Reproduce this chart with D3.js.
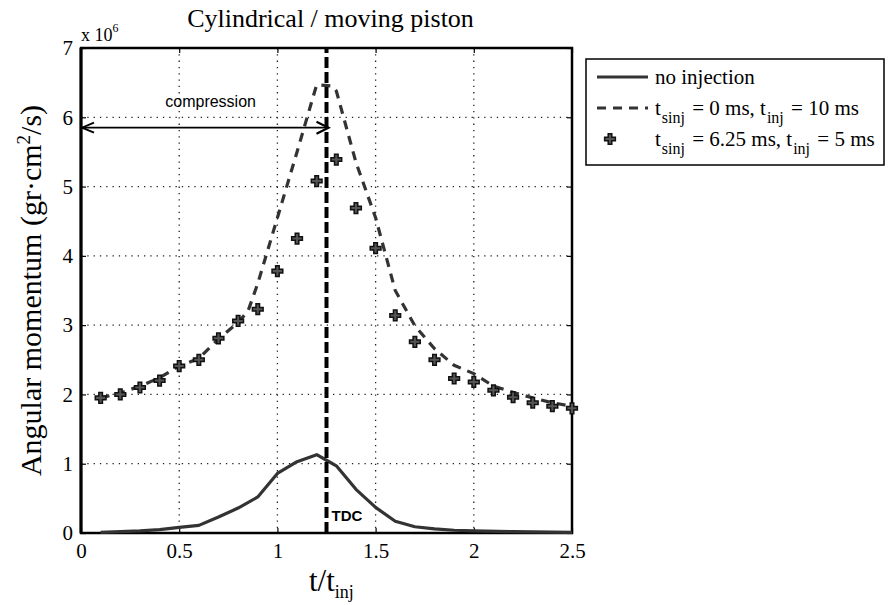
<!DOCTYPE html>
<html><head><meta charset="utf-8">
<script src="https://cdn.jsdelivr.net/npm/d3@7"></script>
<style>body{margin:0;background:#fff}svg{display:block}</style>
</head><body>
<svg id="c" width="889" height="605"></svg>
<script>
// Values in units of 1e6 gr·cm²/s
const noInjX = [0.1,0.2,0.3,0.4,0.5,0.6,0.7,0.8,0.9,1.0,1.1,1.2,1.25,1.3,1.4,1.5,1.6,1.7,1.8,1.9,2.0,2.2,2.5];
const noInjY = [0.01,0.02,0.03,0.05,0.08,0.11,0.23,0.36,0.52,0.86,1.03,1.13,1.05,0.97,0.63,0.37,0.17,0.09,0.06,0.04,0.03,0.02,0.01];
const inj10X = [0.1,0.2,0.3,0.4,0.5,0.6,0.7,0.8,0.85,0.9,1.0,1.1,1.2,1.28,1.3,1.4,1.5,1.6,1.7,1.8,1.9,2.0,2.1,2.2,2.3,2.4,2.5];
const inj10Y = [1.95,2.02,2.12,2.24,2.41,2.52,2.8,3.04,3.2,3.6,4.55,5.5,6.47,6.45,6.38,5.35,4.55,3.5,2.99,2.66,2.42,2.3,2.12,2.03,1.95,1.88,1.83];
const inj5X = [0.1,0.2,0.3,0.4,0.5,0.6,0.7,0.8,0.9,1.0,1.1,1.2,1.3,1.4,1.5,1.6,1.7,1.8,1.9,2.0,2.1,2.2,2.3,2.4,2.5];
const inj5Y = [1.95,2.0,2.1,2.2,2.41,2.5,2.81,3.06,3.23,3.78,4.25,5.08,5.39,4.69,4.11,3.14,2.76,2.5,2.23,2.18,2.06,1.96,1.88,1.83,1.8];
const xTicks = [0,0.5,1,1.5,2,2.5];
const xTickLabels = ["0","0.5","1","1.5","2","2.5"];
const yTicks = [0,1,2,3,4,5,6,7];
const tdcX = 1.25;
const compressionY = 5.85;
const titleText = "Cylindrical / moving piston";

const svg = d3.select("#c");
const L=81,R=572,T=48,B=533;
const x = d3.scaleLinear().domain([0,2.5]).range([L,R]);
const y = d3.scaleLinear().domain([0,7]).range([B,T]);
const serif = "'Liberation Serif','Times New Roman',serif";
const sans = "'Liberation Sans',Arial,sans-serif";

// grid
const g = svg.append("g");
g.selectAll(".gx").data(xTicks.slice(1,-1)).join("line")
  .attr("x1",d=>x(d)).attr("x2",d=>x(d)).attr("y1",T).attr("y2",B)
  .attr("stroke","#222").attr("stroke-width",1.3).attr("stroke-dasharray","1.3,5");
g.selectAll(".gy").data(yTicks.slice(1,-1)).join("line")
  .attr("y1",d=>y(d)).attr("y2",d=>y(d)).attr("x1",L).attr("x2",R)
  .attr("stroke","#222").attr("stroke-width",1.3).attr("stroke-dasharray","1.3,5");

// axes
const ax = svg.append("g").attr("transform",`translate(0,${B})`)
  .call(d3.axisBottom(x).tickValues(xTicks).tickFormat((d,i)=>xTickLabels[i]).tickSizeInner(-5).tickSizeOuter(0).tickPadding(10));
const ay = svg.append("g").attr("transform",`translate(${L},0)`)
  .call(d3.axisLeft(y).tickValues(yTicks).tickFormat(d3.format("d")).tickSizeInner(-5).tickSizeOuter(0).tickPadding(8));
const axTop = svg.append("g").attr("transform",`translate(0,${T})`)
  .call(d3.axisTop(x).tickValues(xTicks).tickFormat("").tickSizeInner(-5).tickSizeOuter(0));
const ayR = svg.append("g").attr("transform",`translate(${R},0)`)
  .call(d3.axisRight(y).tickValues(yTicks).tickFormat("").tickSizeInner(-5).tickSizeOuter(0));
[ax,ay,axTop,ayR].forEach(a=>{
  a.select(".domain").remove();
  a.selectAll(".tick line").attr("stroke","#000").attr("stroke-width",1.2);
  a.selectAll(".tick text").attr("font-family",serif).attr("font-size",21).attr("fill","#000");
});
svg.append("rect").attr("x",L).attr("y",T).attr("width",R-L).attr("height",B-T)
  .attr("fill","none").attr("stroke","#000").attr("stroke-width",2.5);
svg.append("line").attr("x1",L).attr("x2",L).attr("y1",T).attr("y2",B).attr("stroke","#000").attr("stroke-width",3);

// x10^6
const ex = svg.append("text").attr("x",L).attr("y",41).attr("font-family",serif).attr("font-size",18).text("x 10");
ex.append("tspan").attr("dy",-9).attr("font-size",12).text("6");

// lines
const line = d3.line().x(d=>x(d[0])).y(d=>y(d[1]));
svg.append("path").datum(noInjX.map((v,i)=>[v,noInjY[i]])).attr("d",line)
  .attr("fill","none").attr("stroke","#333").attr("stroke-width",3.2).attr("stroke-linejoin","round");
svg.append("path").datum(inj10X.map((v,i)=>[v,inj10Y[i]])).attr("d",line)
  .attr("fill","none").attr("stroke","#333").attr("stroke-width",3.2).attr("stroke-dasharray","9,7");
const sym = d3.symbol().type(d3.symbolCross).size(64);
svg.selectAll(".mk").data(inj5X.map((v,i)=>[v,inj5Y[i]])).join("path")
  .attr("d",sym).attr("transform",d=>`translate(${x(d[0])},${y(d[1])})`)
  .attr("fill","#555").attr("stroke","#111").attr("stroke-width",1.5);

// TDC line
svg.append("line").attr("x1",x(tdcX)).attr("x2",x(tdcX)).attr("y1",y(0)).attr("y2",y(7))
  .attr("stroke","#000").attr("stroke-width",4).attr("stroke-dasharray","11,4");
svg.append("text").attr("x",x(tdcX)+5).attr("y",y(0.18)).attr("font-family",sans).attr("font-weight","bold")
  .attr("font-size",15).text("TDC");

// compression arrow
const ay0 = y(compressionY);
const x0 = x(0)+1, x1 = x(tdcX)+2;
svg.append("line").attr("x1",x0).attr("x2",x1).attr("y1",ay0).attr("y2",ay0).attr("stroke","#000").attr("stroke-width",1.8);
svg.append("path").attr("d",`M${x0+12},${ay0-5}L${x0},${ay0}L${x0+12},${ay0+5}`).attr("fill","none").attr("stroke","#000").attr("stroke-width",1.8);
svg.append("path").attr("d",`M${x1-12},${ay0-6}L${x1},${ay0}L${x1-12},${ay0+6}`).attr("fill","none").attr("stroke","#000").attr("stroke-width",2.2);
svg.append("text").attr("x",x(0.66)).attr("y",y(6.15)).attr("text-anchor","middle").attr("font-family",sans)
  .attr("font-size",16).text("compression");

// title
svg.append("text").attr("x",(L+R)/2+4).attr("y",27).attr("text-anchor","middle").attr("font-family",serif)
  .attr("font-size",26).text(titleText);

// x label
const xl = svg.append("text").attr("x",309).attr("y",591).attr("font-family",serif).attr("font-size",31);
xl.append("tspan").text("t/t");
xl.append("tspan").attr("dy",7).attr("font-size",18).text("inj");

// y label
const yl = svg.append("text").attr("transform",`translate(41,${(T+B)/2}) rotate(-90)`).attr("text-anchor","middle")
  .attr("font-family",serif).attr("font-size",30);
yl.append("tspan").text("Angular momentum (gr\u00b7cm");
yl.append("tspan").attr("dy",-11).attr("font-size",19).text("2");
yl.append("tspan").attr("dy",11).text("/s)");

// legend
const lg = svg.append("g");
const rows=[84,115,146];
lg.append("rect").attr("x",586).attr("y",59).attr("width",298).attr("height",106).attr("fill","#fff").attr("stroke","#000").attr("stroke-width",1.5);
lg.append("line").attr("x1",597).attr("x2",648).attr("y1",rows[0]-7).attr("y2",rows[0]-7).attr("stroke","#333").attr("stroke-width",3.2);
lg.append("line").attr("x1",597).attr("x2",648).attr("y1",rows[1]-7).attr("y2",rows[1]-7).attr("stroke","#333").attr("stroke-width",3.2).attr("stroke-dasharray","9,7");
lg.append("path").attr("d",sym).attr("transform",`translate(610,${rows[2]-7})`).attr("fill","#555").attr("stroke","#111").attr("stroke-width",1.5);
function legText(yy, parts){
  const t = lg.append("text").attr("x",655).attr("y",yy).attr("font-family",serif).attr("font-size",21);
  parts.forEach(p=>{
    if(p.sub){ t.append("tspan").attr("dx",1).attr("dy",8).attr("font-size",16).text(p.sub); t.append("tspan").attr("dx",2).attr("dy",-8).text(p.after); }
    else t.append("tspan").text(p.text);
  });
}
legText(rows[0],[{text:"no injection"}]);
legText(rows[1],[{text:"t"},{sub:"sinj",after:" = 0 ms, t"},{sub:"inj",after:" = 10 ms"}]);
legText(rows[2],[{text:"t"},{sub:"sinj",after:" = 6.25 ms, t"},{sub:"inj",after:" = 5 ms"}]);
</script>
</body></html>
